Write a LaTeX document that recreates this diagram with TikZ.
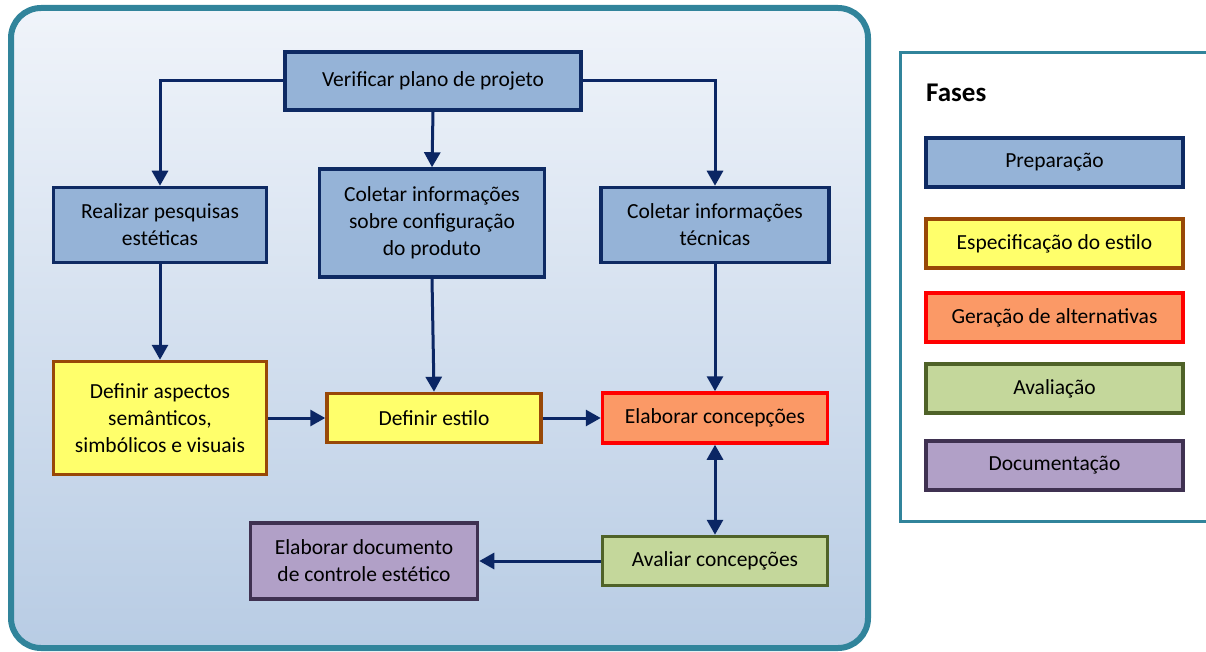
\documentclass[tikz,border=0pt]{standalone}
\usepackage{fontspec}
\setmainfont{Carlito}
\usepackage{tikz}
\usetikzlibrary{arrows.meta}
\definecolor{moldura}{HTML}{31849B}
\definecolor{fundotopo}{HTML}{F0F4FA}
\definecolor{fundobase}{HTML}{B8CCE4}
\definecolor{azulseta}{HTML}{0B2664}
\definecolor{prepfill}{HTML}{95B3D7}
\definecolor{prepline}{HTML}{0E2A63}
\definecolor{estfill}{HTML}{FFFF6B}
\definecolor{estline}{HTML}{984807}
\definecolor{gerfill}{HTML}{FB9966}
\definecolor{gerline}{HTML}{FF0000}
\definecolor{avalfill}{HTML}{C4D79B}
\definecolor{avalline}{HTML}{4F6228}
\definecolor{docfill}{HTML}{B1A0C7}
\definecolor{docline}{HTML}{3F3151}

\begin{document}
\begin{tikzpicture}[x=1pt, y=-1pt,
  every node/.style={inner sep=2pt, align=center, font=\fontsize{21.5}{27}\selectfont},
  fase/.style={draw, line width=3.5pt, minimum width=#1},
  prep/.style={fase=#1, draw=prepline, fill=prepfill},
  espec/.style={fase=#1, draw=estline, fill=estfill},
  gera/.style={fase=#1, draw=gerline, fill=gerfill},
  aval/.style={fase=#1, draw=avalline, fill=avalfill},
  docu/.style={fase=#1, draw=docline, fill=docfill},
  seta/.style={draw=azulseta, line width=3pt, -{Triangle[width=16pt, length=15pt]}},
  seta2/.style={seta, {Triangle[width=16pt, length=15pt]}-{Triangle[width=16pt, length=15pt]}}]
\useasboundingbox (0,0) rectangle (1206,652);

% fundo
\shade[top color=fundotopo, bottom color=fundobase, rounded corners=30pt] (11,8) rectangle (868,648);
\draw[moldura, line width=6pt, rounded corners=30pt] (11,8) rectangle (868,648);
\fill[white] (900,53) rectangle (1215,521);
\draw[moldura, line width=3pt] (1215,53) -- (900,53) -- (900,521) -- (1215,521);

% fluxo
\node[prep=296pt, minimum height=58pt] (verif) at (433,81) {Verificar plano de projeto};
\node[prep=213pt, minimum height=75pt] (pesq) at (160,225) {Realizar pesquisas\\estéticas};
\node[prep=225pt, minimum height=108pt] (config) at (432,223) {Coletar informações\\sobre configuração\\do produto};
\node[prep=228pt, minimum height=75pt] (tecn) at (715,225) {Coletar informações\\técnicas};
\node[espec=213pt, minimum height=113pt] (aspec) at (160,418) {Definir aspectos\\semânticos,\\simbólicos e visuais};
\node[espec=214pt, minimum height=49pt] (estilo) at (434,418) {Definir estilo};
\node[gera=225pt, minimum height=50pt] (elab) at (715,418) {Elaborar concepções};
\node[aval=225pt, minimum height=49pt] (avaliar) at (715,561) {Avaliar concepções};
\node[docu=227pt, minimum height=76pt] (docum) at (364,561) {Elaborar documento\\de controle estético};

\draw[seta] (verif.west) -| (pesq.north);
\draw[seta] (verif.east) -| (tecn.north);
\draw[seta] (verif.south) -- (config.north);
\draw[seta] (pesq.south) -- (aspec.north);
\draw[seta] (config.south) -- (estilo.north);
\draw[seta] (tecn.south) -- (elab.north);
\draw[seta] (aspec.east) -- (estilo.west);
\draw[seta] (estilo.east) -- (elab.west);
\draw[seta2] (elab.south) -- (avaliar.north);
\draw[seta] (avaliar.west) -- (docum.east);

% legenda
\node[anchor=west, font=\fontsize{27}{30}\selectfont\bfseries] (fases) at (924,93) {Fases};
\node[prep=257pt, minimum height=49pt] (lprep) at (1054.5,162.5) {Preparação};
\node[espec=257pt, minimum height=49pt] (lespec) at (1054.5,243.5) {Especificação do estilo};
\node[gera=257pt, minimum height=49pt] (lgera) at (1054.5,317.5) {Geração de alternativas};
\node[aval=257pt, minimum height=49pt] (laval) at (1054.5,388.5) {Avaliação};
\node[docu=257pt, minimum height=49pt] (ldocu) at (1054.5,465.5) {Documentação};
\end{tikzpicture}
\end{document}
